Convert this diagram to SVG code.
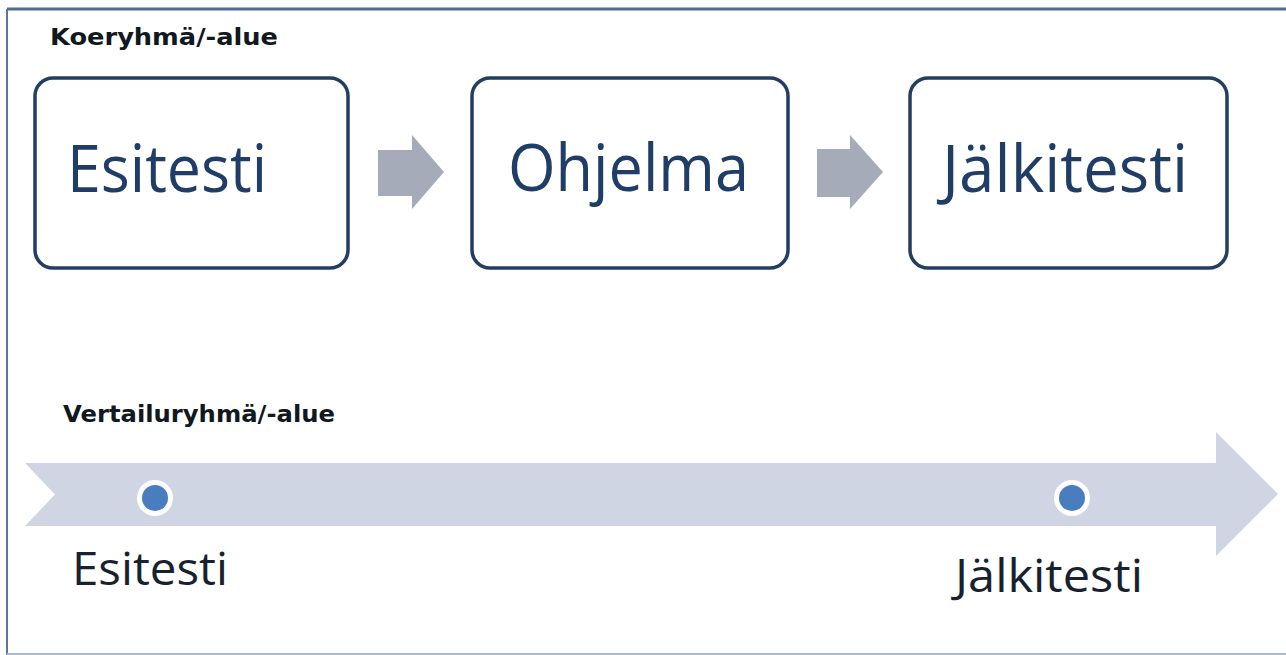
<svg xmlns="http://www.w3.org/2000/svg" width="1286" height="655" viewBox="0 0 1286 655">
<style>
.box{fill:#ffffff;stroke:#243e61;stroke-width:3.5}
.btxt{font-family:"Open Sans","Noto Sans",sans-serif;font-size:66px;font-weight:500;fill:#1f3d66}
.lbl{font-family:"DejaVu Sans","Liberation Sans",sans-serif;font-weight:bold;font-size:23px;fill:#101820}
.tl{font-family:"Open Sans","Noto Sans",sans-serif;font-size:46px;font-weight:500;fill:#18212e}
.sarrow{fill:#a6abb9}
</style>
<rect x="0" y="0" width="1286" height="655" fill="#ffffff"/>
<line x1="7" y1="9" x2="1286" y2="9" stroke="#4e6d97" stroke-width="3"/>
<line x1="7" y1="9" x2="7" y2="655" stroke="#5a7699" stroke-width="2"/>
<line x1="7" y1="654" x2="1286" y2="654" stroke="#a9bbd0" stroke-width="2"/>

<text class="lbl" x="50" y="45" textLength="228" lengthAdjust="spacingAndGlyphs">Koeryhmä/-alue</text>

<g id="node-esitesti">
<rect class="box" x="35" y="78" width="313" height="190" rx="18"/>
<text class="btxt" x="67" y="192" textLength="200" lengthAdjust="spacingAndGlyphs">Esitesti</text>
</g>
<g id="node-ohjelma">
<rect class="box" x="472" y="78" width="316" height="190" rx="18"/>
<text class="btxt" x="508" y="191" textLength="241" lengthAdjust="spacingAndGlyphs">Ohjelma</text>
</g>
<g id="node-jalkitesti">
<rect class="box" x="910" y="78" width="317" height="190" rx="18"/>
<text class="btxt" x="942" y="192" textLength="246" lengthAdjust="spacingAndGlyphs">Jälkitesti</text>
</g>

<g id="connectors">
<path class="sarrow" d="M378,150 L412,150 L412,135 L444,172 L412,209 L412,196 L378,196 Z"/>
<path class="sarrow" d="M817,149 L850,149 L850,135 L883,172 L850,209 L850,197 L817,197 Z"/>
</g>

<text class="lbl" x="63" y="422" textLength="272" lengthAdjust="spacingAndGlyphs">Vertailuryhmä/-alue</text>

<g id="timeline">
<path d="M25,463 L1216,463 L1216,432 L1278,494 L1216,556 L1216,526 L25,526 L55,494.5 Z" fill="#cfd5e2"/>
<circle cx="155" cy="498" r="18" fill="#ffffff"/>
<circle cx="155" cy="498" r="13" fill="#4a7cc0"/>
<circle cx="1072" cy="498" r="18" fill="#ffffff"/>
<circle cx="1072" cy="498" r="13" fill="#4a7cc0"/>
</g>
<text class="tl" x="72" y="585" textLength="156" lengthAdjust="spacingAndGlyphs">Esitesti</text>
<text class="tl" x="955" y="592" textLength="188" lengthAdjust="spacingAndGlyphs">Jälkitesti</text>
</svg>
